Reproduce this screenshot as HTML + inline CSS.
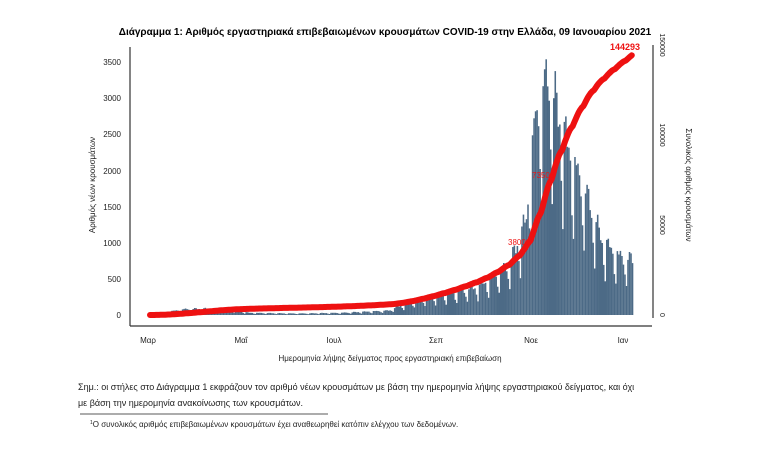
<!DOCTYPE html>
<html><head><meta charset="utf-8"><style>
body{margin:0;background:#fff;width:758px;height:450px;overflow:hidden;font-family:"Liberation Sans","DejaVu Sans",sans-serif;}
</style></head><body>
<svg id="s" width="758" height="450" xmlns="http://www.w3.org/2000/svg" font-family="Liberation Sans, DejaVu Sans, sans-serif">
<text x="385" y="35" font-size="10" font-weight="bold" text-anchor="middle">Διάγραμμα 1: Αριθμός εργαστηριακά επιβεβαιωμένων κρουσμάτων COVID-19 στην Ελλάδα, 09 Ιανουαρίου 2021</text>
<g id="bars" fill="#4c6a86"></g>
<g stroke="#333" stroke-width="1.2" fill="none">
<line x1="130" y1="47" x2="130" y2="326"/>
<line x1="130" y1="326" x2="652" y2="326"/>
<line x1="653" y1="45" x2="653" y2="318"/>
</g>
<g font-size="8" text-anchor="end" fill="#222">
<text x="121" y="318">0</text><text x="121" y="282">500</text><text x="121" y="246">1000</text><text x="121" y="210">1500</text><text x="121" y="174">2000</text><text x="121" y="137">2500</text><text x="121" y="101">3000</text><text x="121" y="65">3500</text>
</g>
<g font-size="8" fill="#222" text-anchor="middle">
<text x="148" y="343">Μαρ</text><text x="241" y="343">Μαΐ</text><text x="334" y="343">Ιουλ</text><text x="436" y="343">Σεπ</text><text x="531" y="343">Νοε</text><text x="623" y="343">Ιαν</text>
</g>
<g font-size="7" fill="#222">
<text transform="translate(660,315) rotate(90)" text-anchor="middle">0</text>
<text transform="translate(660,225) rotate(90)" text-anchor="middle">50000</text>
<text transform="translate(660,135) rotate(90)" text-anchor="middle">100000</text>
<text transform="translate(660,45) rotate(90)" text-anchor="middle">150000</text>
<text transform="translate(686,185) rotate(90)" text-anchor="middle" font-size="8">Συνολικός αριθμός κρουσμάτων</text>
<text transform="translate(95,185) rotate(-90)" text-anchor="middle" font-size="8">Αριθμός νέων κρουσμάτων</text>
</g>
<polyline id="cum" fill="none" stroke="#ee1111" stroke-width="6" stroke-linejoin="round" stroke-linecap="round"/>
<text x="640" y="50" font-size="9" font-weight="bold" fill="#e11" text-anchor="end">144293</text>
<text x="508" y="245" font-size="8" fill="#e11">38000</text>
<text x="532" y="178" font-size="8" fill="#e11">73506</text>
<text x="390" y="361" font-size="8" text-anchor="middle" fill="#222">Ημερομηνία λήψης δείγματος προς εργαστηριακή επιβεβαίωση</text>
<text x="78" y="390" font-size="9" fill="#222">Σημ.: οι στήλες στο Διάγραμμα 1 εκφράζουν τον αριθμό νέων κρουσμάτων με βάση την ημερομηνία λήψης εργαστηριακού δείγματος, και όχι</text>
<text x="78" y="406" font-size="9" fill="#222">με βάση την ημερομηνία ανακοίνωσης των κρουσμάτων.</text>
<line x1="80" y1="414" x2="328" y2="414" stroke="#222" stroke-width="0.8"/>
<text x="90" y="427" font-size="8" fill="#222"><tspan font-size="5" dy="-3">1</tspan><tspan dy="3">Ο συνολικός αριθμός επιβεβαιωμένων κρουσμάτων έχει αναθεωρηθεί κατόπιν ελέγχου των δεδομένων.</tspan></text>
</svg>
<script>
var base=315,pp=253/3500;
var k=[[0,0],[10,40],[23,80],[44,90],[65,30],[96,20],[126,30],[157,60],[176,220],[202,320],[218,400],[237,700],[248,1300],[253,2500],[258,3000],[263,3200],[268,2800],[278,2100],[288,1600],[298,1000],[309,800],[318,750]];
function f(d){for(var i=1;i<k.length;i++){if(d<=k[i][0]){var a=k[i-1],b=k[i];return a[1]+(b[1]-a[1])*(d-a[0])/(b[0]-a[0]);}}return 700;}
var wk=[1.05,1.12,1.08,1.0,0.95,0.7,0.5];
var b='',cum=0,pts=[],arr=[];
for(var d=0;d<=318;d++){var v=f(d)*wk[d%7]*(0.93+0.12*Math.abs(Math.sin(d*7.3)));arr.push(Math.min(v,3584));}
var tot=arr.reduce(function(a,c){return a+c},0);
for(var d=0;d<=318;d++){var x=150+d*1.515,v=arr[d],hh=v*pp;
b+='<rect x="'+x.toFixed(2)+'" y="'+(base-hh).toFixed(1)+'" width="1.55" height="'+hh.toFixed(1)+'"/>';
cum+=v;var c=cum/tot*144293;pts.push(x.toFixed(1)+','+(base-c/150000*270).toFixed(1));}
document.getElementById('bars').innerHTML=b;
document.getElementById('cum').setAttribute('points',pts.join(' '));
</script>
</body></html>
